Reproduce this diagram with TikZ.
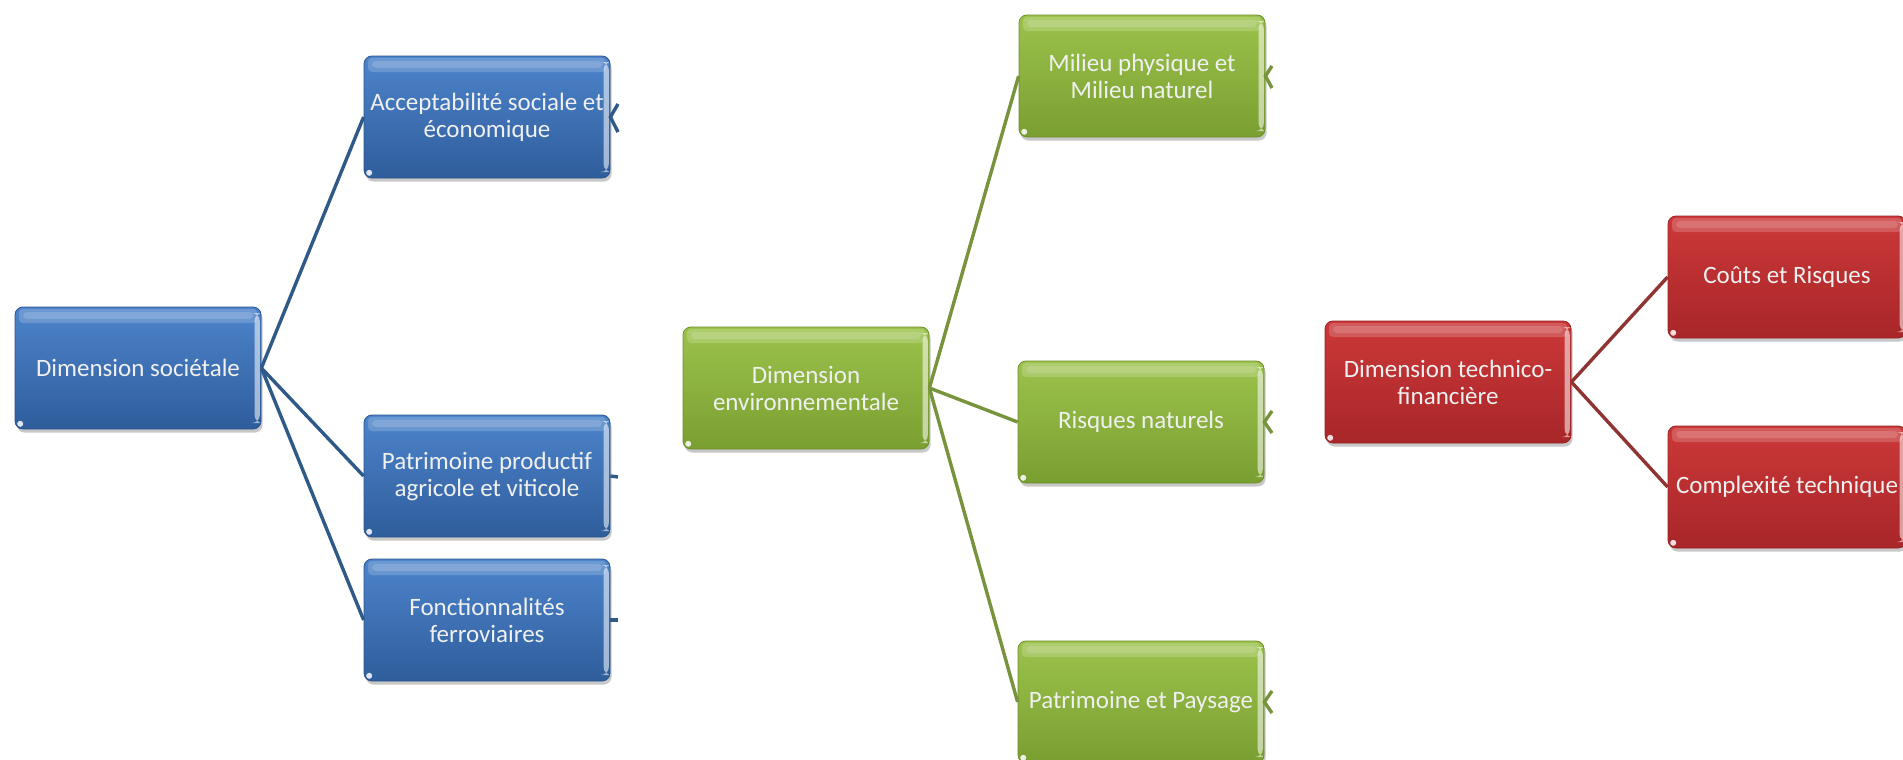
\documentclass[tikz,border=0pt]{standalone}
\usepackage{fontspec}
\setmainfont{Carlito}
\usetikzlibrary{shadows,calc}
\definecolor{blueTop}{HTML}{4D84CB}
\definecolor{blueBot}{HTML}{2F5D9C}
\definecolor{blueLine}{HTML}{2F5A88}
\definecolor{greenTop}{HTML}{9CC24C}
\definecolor{greenBot}{HTML}{7A9F31}
\definecolor{greenLine}{HTML}{77933C}
\definecolor{redTop}{HTML}{CC3838}
\definecolor{redBot}{HTML}{A82629}
\definecolor{redLine}{HTML}{8E3432}
\tikzset{
  box/.style={rounded corners=4pt, minimum width=123pt, minimum height=61pt,
    inner sep=1pt, align=center, text=white!94!black,
    font=\fontsize{12.5}{13.5}\selectfont,
    drop shadow={shadow xshift=0.8pt, shadow yshift=-1.8pt, opacity=0.3, fill=black!70},
    path picture={
      \fill[white, opacity=0.18, rounded corners=2pt]
        ([xshift=2pt,yshift=-1pt]path picture bounding box.north west) rectangle
        ([xshift=-2pt,yshift=-8pt]path picture bounding box.north east);
      \fill[white, opacity=0.15, rounded corners=2pt]
        ([xshift=4pt,yshift=-2.5pt]path picture bounding box.north west) rectangle
        ([xshift=-4pt,yshift=-6pt]path picture bounding box.north east);
      \fill[white, opacity=0.55]
        ([xshift=-3.2pt,yshift=-3pt]path picture bounding box.north east) rectangle
        ([xshift=-0.6pt,yshift=3pt]path picture bounding box.south east);
      \fill[white, opacity=0.85]
        ([xshift=2.6pt,yshift=2.6pt]path picture bounding box.south west) circle (1.5pt);
    }},
  bluebox/.style={box, top color=blueTop, bottom color=blueBot, draw=blueBot!90!black, line width=0.4pt},
  greenbox/.style={box, top color=greenTop, bottom color=greenBot, draw=greenBot!90!black, line width=0.4pt},
  redbox/.style={box, top color=redTop, bottom color=redBot, draw=redBot!90!black, line width=0.4pt},
  blueconn/.style={draw=blueLine, line width=1.7pt},
  greenconn/.style={draw=greenLine, line width=1.7pt},
  redconn/.style={draw=redLine, line width=1.7pt},
}
\begin{document}
\begin{tikzpicture}[x=0.5pt, y=-0.5pt]
\useasboundingbox (0,0) rectangle (1903,760);
\fill[white] (0,0) rectangle (1903,760);
\clip (0,0) rectangle (1903,760);

% ---- blue (societal) ----
\node[bluebox] (soc) at (138,368) {Dimension sociétale};
\node[bluebox] (acc) at (487,117) {Acceptabilité sociale et\\économique};
\node[bluebox] (pat) at (487,476) {Patrimoine productif\\agricole et viticole};
\node[bluebox] (fon) at (487,620) {Fonctionnalités\\ferroviaires};

% ---- green (environment) ----
\node[greenbox] (env) at (806,388) {Dimension\\environnementale};
\node[greenbox] (mil) at (1142,76) {Milieu physique et\\Milieu naturel};
\node[greenbox] (ris) at (1141,422) {Risques naturels};
\node[greenbox] (pay) at (1141,702) {Patrimoine et Paysage};

% ---- red (techno-financial) ----
\node[redbox] (tec) at (1448,382) {Dimension technico-\\financière};
\node[redbox, minimum width=119pt] (cou) at (1787,277) {Coûts et Risques};
\node[redbox, minimum width=119pt] (cpx) at (1787,487) {Complexité technique};

% connectors
\draw[blueconn] (soc.east) -- (acc.west);
\draw[blueconn] (soc.east) -- (pat.west);
\draw[blueconn] (soc.east) -- (fon.west);
\draw[greenconn] (env.east) -- (mil.west);
\draw[greenconn] (env.east) -- (ris.west);
\draw[greenconn] (env.east) -- (pay.west);
\draw[redconn] (tec.east) -- (cou.west);
\draw[redconn] (tec.east) -- (cpx.west);

% fragments of connectors leaving the picture
\coordinate (accU) at (618,104);
\coordinate (accD) at (618,132);
\coordinate (patR) at (618,477);
\coordinate (fonR) at (618,620);
\coordinate (milU) at (1272,66);
\coordinate (milD) at (1272,88);
\coordinate (risU) at (1272,411);
\coordinate (risD) at (1272,433);
\coordinate (payU) at (1272,691);
\coordinate (payD) at (1272,713);
\draw[blueconn] (accU) -- (acc.east) -- (accD);
\draw[blueconn] (pat.east) -- (patR);
\draw[blueconn] (fon.east) -- (fonR);
\draw[greenconn] (milU) -- (mil.east) -- (milD);
\draw[greenconn] (risU) -- (ris.east) -- (risD);
\draw[greenconn] (payU) -- (pay.east) -- (payD);
\end{tikzpicture}
\end{document}
